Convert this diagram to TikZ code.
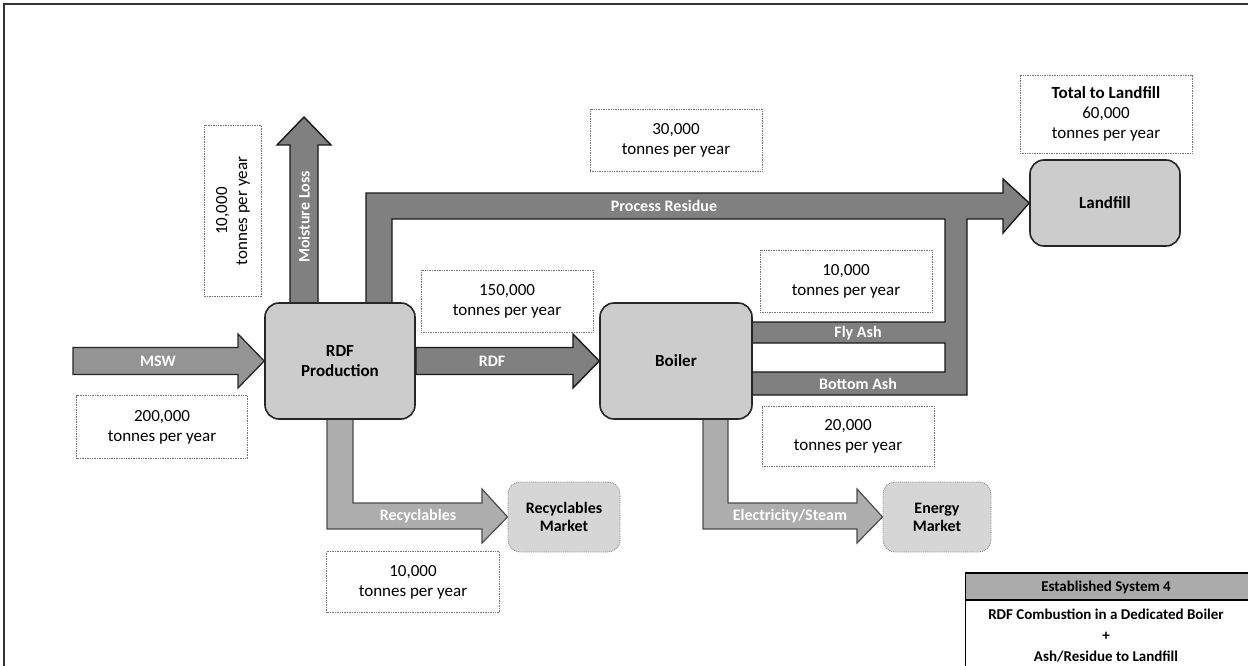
\documentclass[tikz,border=0pt]{standalone}
\usepackage{fontspec}
\setmainfont{Carlito}
\usetikzlibrary{backgrounds}

\begin{document}
\begin{tikzpicture}[x=1pt,y=-1pt,
  valbox/.style={draw=black!55, densely dotted, line width=0.7pt, fill=white,
    minimum width=172pt, minimum height=62pt, align=center,
    font=\fontsize{17}{20}\selectfont, inner sep=2pt},
  procbox/.style={draw=black!85, line width=1.6pt, fill=black!20,
    rounded corners=14pt, align=center, font=\bfseries\fontsize{17}{20}\selectfont},
  mktbox/.style={draw=black!45, densely dotted, line width=0.9pt, fill=black!16,
    rounded corners=12pt, align=center, font=\bfseries\fontsize{16}{18}\selectfont},
  flowdark/.style={draw=black!90, line width=1.4pt, fill=black!50, line join=miter},
  flowmid/.style={draw=black!85, line width=1.3pt, fill=black!42, line join=miter},
  flowlight/.style={draw=black!70, line width=1.2pt, fill=black!32, line join=miter},
  flowlbl/.style={text=white, font=\bfseries\fontsize{16}{18}\selectfont, inner sep=0pt},
  legtxt/.style={font=\bfseries\fontsize{15}{17}\selectfont, inner sep=0pt},
]
\useasboundingbox (0,0) rectangle (1248,666);

% outer frame
\draw[line width=1.5pt, black!80] (4,666) -- (4,4) -- (1248,4);

% process and market boxes
\node[procbox, minimum width=150pt, minimum height=116pt] (rdf) at (340,361) {RDF\\Production};
\node[procbox, minimum width=152pt, minimum height=116pt] (boiler) at (676,361) {Boiler};
\node[procbox, minimum width=150pt, minimum height=86pt] (landfill) at (1105,203) {Landfill};
\node[mktbox, minimum width=112pt, minimum height=70pt] (recmkt) at (564,517) {Recyclables\\Market};
\node[mktbox, minimum width=108pt, minimum height=70pt] (enmkt) at (937,517) {Energy\\Market};

% tonnage boxes
\node[valbox, minimum width=171pt, minimum height=63pt] (v200) at (162,427) {200,000\\tonnes per year};
\node[valbox] (v150) at (507,301) {150,000\\tonnes per year};
\node[valbox, rotate=90, minimum width=171pt, minimum height=57pt] (v10m) at (233,211) {10,000\\tonnes per year};
\node[valbox] (v30) at (676,140) {30,000\\tonnes per year};
\node[valbox] (v10f) at (846,281) {10,000\\tonnes per year};
\node[valbox, minimum height=60pt] (v20) at (848,436) {20,000\\tonnes per year};
\node[valbox, minimum width=173pt, minimum height=61pt] (v10r) at (413,582) {10,000\\tonnes per year};
\node[valbox, minimum height=78pt] (total) at (1106,114) {\textbf{Total to Landfill}\\60,000\\tonnes per year};

% flows, behind the boxes
\begin{scope}[on background layer]
  % MSW in
  \draw[flowmid] (73,347.5) -- (238,347.5) -- (238,334) -- (rdf.west) -- (238,388)
    -- (238,374.5) -- (73,374.5) -- cycle;
  % RDF to boiler
  \draw[flowdark] (rdf.east |- 0,347.5) -- (573,347.5) -- (573,334) -- (boiler.west)
    -- (573,388) -- (573,374.5) -- (rdf.east |- 0,374.5) -- cycle;
  % moisture loss
  \draw[flowdark] (290,303) -- (290,145) -- (277,145) -- (304,117) -- (331,145)
    -- (318,145) -- (318,303) -- cycle;
  % process residue, fly ash and bottom ash to landfill
  \draw[flowdark] (366,303) -- (366,193) -- (1003,193) -- (1003,179) -- (landfill.west)
    -- (1003,233) -- (1003,219) -- (967,219) -- (967,395) -- (752,395) -- (752,372)
    -- (945,372) -- (945,343) -- (752,343) -- (752,322) -- (945,322) -- (945,219)
    -- (392,219) -- (392,303) -- cycle;
  % recyclables
  \draw[flowlight] (327,419) -- (327,529) -- (482,529) -- (482,543) -- (recmkt.west)
    -- (482,489) -- (482,503) -- (353,503) -- (353,419) -- cycle;
  % electricity / steam
  \draw[flowlight] (703,419) -- (703,529) -- (857,529) -- (857,543) -- (enmkt.west)
    -- (857,489) -- (857,503) -- (728,503) -- (728,419) -- cycle;
\end{scope}

% flow labels
\node[flowlbl] (lmsw) at (158,361) {MSW};
\node[flowlbl] (lrdf) at (492,361) {RDF};
\node[flowlbl, rotate=90] (lmoist) at (304,217) {Moisture Loss};
\node[flowlbl] (lres) at (664,206) {Process Residue};
\node[flowlbl] (lfly) at (858,333) {Fly Ash};
\node[flowlbl] (lbot) at (858,384) {Bottom Ash};
\node[flowlbl] (lrec) at (418,516) {Recyclables};
\node[flowlbl] (lel) at (790,516) {Electricity/Steam};

% system legend
\fill[black!33] (965,573) rectangle (1248,600);
\draw[line width=2pt] (965,573) -- (1248,573) (965,600) -- (1248,600);
\draw[line width=0.8pt] (965,573) -- (965,666);
\node[legtxt] (lhead) at (1106,587) {Established System 4};
\node[legtxt] (lone) at (1106,614) {RDF Combustion in a Dedicated Boiler};
\node[legtxt] (lplus) at (1106,636) {+};
\node[legtxt] (lthree) at (1106,657) {Ash/Residue to Landfill};
\end{tikzpicture}
\end{document}
